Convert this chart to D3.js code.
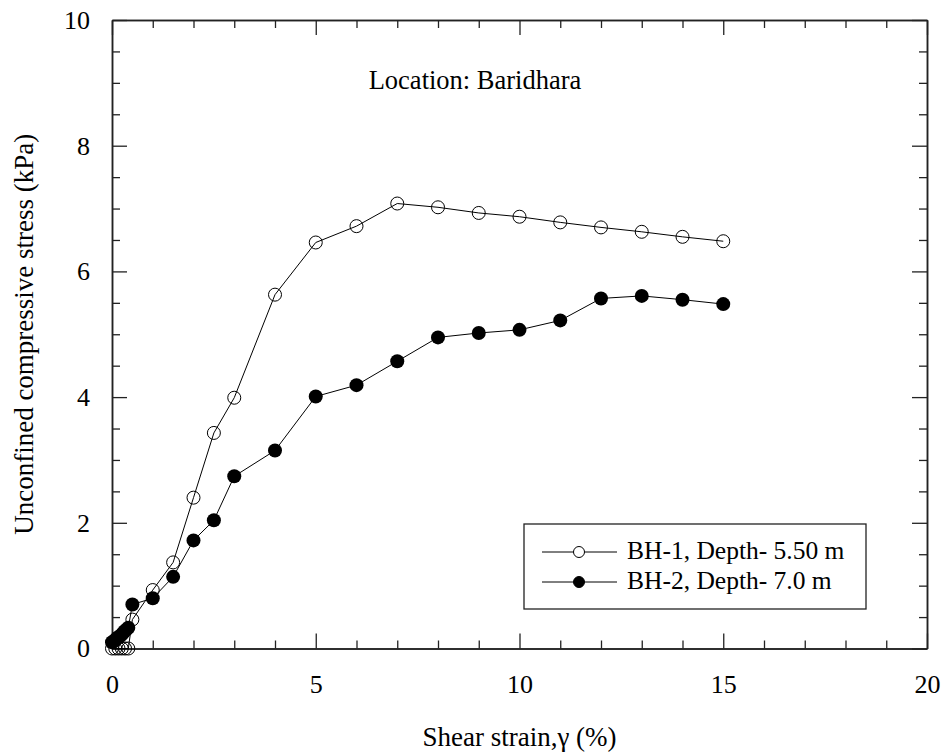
<!DOCTYPE html>
<html><head><meta charset="utf-8">
<script src="https://cdn.jsdelivr.net/npm/d3@7"></script>
<style>body{margin:0;background:#fff}svg{display:block}</style>
</head><body><svg id="c" width="945" height="756"></svg>
<script>
const bh1X = [0, 0.08, 0.16, 0.24, 0.32, 0.4, 0.5, 1, 1.5, 2, 2.5, 3, 4, 5, 6, 7, 8, 9, 10, 11, 12, 13, 14, 15];
const bh1Y = [0, 0, 0, 0, 0, 0, 0.46, 0.93, 1.37, 2.4, 3.43, 3.99, 5.63, 6.46, 6.72, 7.08, 7.02, 6.93, 6.87, 6.78, 6.70, 6.63, 6.55, 6.48];
const bh2X = [0, 0.05, 0.1, 0.15, 0.2, 0.25, 0.3, 0.35, 0.4, 0.5, 1, 1.5, 2, 2.5, 3, 4, 5, 6, 7, 8, 9, 10, 11, 12, 13, 14, 15];
const bh2Y = [0.1, 0.12, 0.15, 0.18, 0.2, 0.23, 0.27, 0.3, 0.33, 0.7, 0.8, 1.14, 1.72, 2.04, 2.74, 3.15, 4.01, 4.19, 4.57, 4.95, 5.02, 5.07, 5.22, 5.57, 5.61, 5.55, 5.48];
const xMajor = [0, 5, 10, 15, 20];
const yMajor = [0, 2, 4, 6, 8, 10];
const seriesNames = ["BH-1, Depth- 5.50 m", "BH-2, Depth- 7.0 m"];

const FONT = "Times New Roman";
const svg = d3.select("#c").attr("font-family", FONT);
const L = 112, R = 927, T = 20, B = 648.5;
const x = d3.scaleLinear().domain([0, 20]).range([L, R]);
const y = d3.scaleLinear().domain([0, 10]).range([B, T]);
const axCol = "#222";

const xMinor = d3.range(0, 21, 1).filter(v => v % 5 !== 0);
const yMinor = d3.range(0, 10.01, 0.5).filter(v => v % 2 !== 0);

function axisStyle(g){
  g.attr("font-family", FONT).attr("font-size", 26);
  g.select(".domain").attr("stroke", axCol).attr("stroke-width", 1.5);
  g.selectAll(".tick line").attr("stroke", axCol).attr("stroke-width", 1.3);
  g.selectAll("text").attr("fill", "#000").attr("font-family", FONT);
}

svg.append("g").attr("transform", `translate(0,${B})`).call(d3.axisBottom(x).tickValues(xMinor).tickSize(-8).tickFormat("").tickSizeOuter(0)).call(axisStyle);
svg.append("g").attr("transform", `translate(0,${B})`).call(d3.axisBottom(x).tickValues(xMajor).tickSize(-15).tickPadding(26).tickSizeOuter(0)).call(axisStyle);
svg.append("g").attr("transform", `translate(0,${T})`).call(d3.axisTop(x).tickValues(xMinor).tickSize(-8).tickFormat("").tickSizeOuter(0)).call(axisStyle);
svg.append("g").attr("transform", `translate(0,${T})`).call(d3.axisTop(x).tickValues(xMajor).tickSize(-15).tickFormat("").tickSizeOuter(0)).call(axisStyle);
svg.append("g").attr("transform", `translate(${L},0)`).call(d3.axisLeft(y).tickValues(yMinor).tickSize(-8).tickFormat("").tickSizeOuter(0)).call(axisStyle);
svg.append("g").attr("transform", `translate(${L},0)`).call(d3.axisLeft(y).tickValues(yMajor).tickSize(-15).tickPadding(22).tickSizeOuter(0)).call(axisStyle);
svg.append("g").attr("transform", `translate(${R},0)`).call(d3.axisRight(y).tickValues(yMinor).tickSize(-8).tickFormat("").tickSizeOuter(0)).call(axisStyle);
svg.append("g").attr("transform", `translate(${R},0)`).call(d3.axisRight(y).tickValues(yMajor).tickSize(-15).tickFormat("").tickSizeOuter(0)).call(axisStyle);

const line = d3.line().x(d => x(d[0])).y(d => y(d[1]));
const d1 = bh1X.map((v, i) => [v, bh1Y[i]]);
const d2 = bh2X.map((v, i) => [v, bh2Y[i]]);

svg.append("path").datum(d1).attr("d", line).attr("fill", "none").attr("stroke", "#000").attr("stroke-width", 1);
svg.append("path").datum(d2).attr("d", line).attr("fill", "none").attr("stroke", "#000").attr("stroke-width", 1);
svg.append("g").selectAll("circle").data(d1).join("circle").attr("cx", d => x(d[0])).attr("cy", d => y(d[1])).attr("r", 6.5)
  .attr("fill", "none").attr("stroke", "#000").attr("stroke-width", 1);
svg.append("g").selectAll("circle").data(d2).join("circle").attr("cx", d => x(d[0])).attr("cy", d => y(d[1])).attr("r", 7)
  .attr("fill", "#000");

svg.append("text").attr("x", 475).attr("y", 89).attr("text-anchor", "middle").attr("font-family", FONT).attr("font-size", 26.5).text("Location: Baridhara");

svg.append("text").attr("x", (L + R) / 2).attr("y", 746).attr("text-anchor", "middle").attr("font-family", FONT).attr("font-size", 27).text("Shear strain,γ (%)");
svg.append("text").attr("transform", `translate(33,${(T + B) / 2}) rotate(-90)`).attr("text-anchor", "middle").attr("font-family", FONT).attr("font-size", 27).text("Unconfined compressive stress (kPa)");

const lg = svg.append("g");
lg.append("rect").attr("x", 524).attr("y", 524).attr("width", 342).attr("height", 85).attr("fill", "#fff").attr("stroke", axCol).attr("stroke-width", 1.3);
[552, 582].forEach((ly, i) => {
  lg.append("line").attr("x1", 542).attr("x2", 617).attr("y1", ly).attr("y2", ly).attr("stroke", "#000").attr("stroke-width", 1);
  lg.append("circle").attr("cx", 579).attr("cy", ly).attr("r", 5.5).attr("fill", i === 0 ? "#fff" : "#000").attr("stroke", "#000").attr("stroke-width", 1);
  lg.append("text").attr("x", 627).attr("y", ly + 6.5).attr("font-family", FONT).attr("font-size", 25.5).text(seriesNames[i]);
});
</script></body></html>
